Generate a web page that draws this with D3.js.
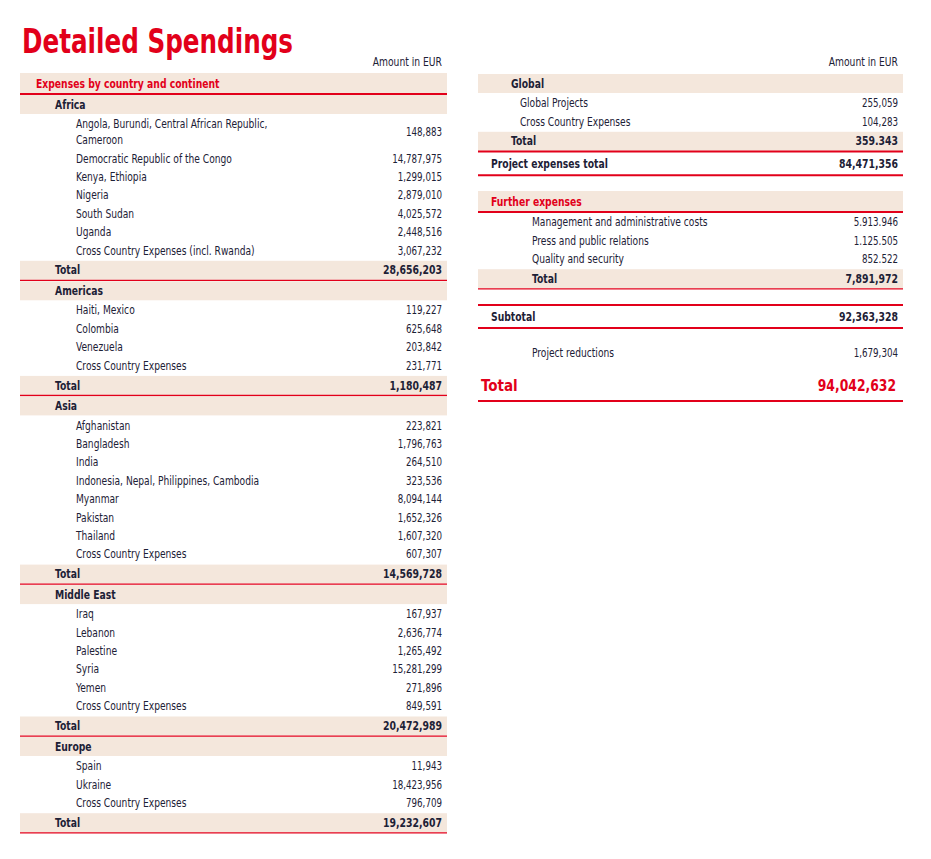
<!DOCTYPE html>
<html>
<head>
<meta charset="utf-8">
<script src="https://cdn.jsdelivr.net/npm/d3@7"></script>
<style>
  body { margin: 0; background: #fff; }
  svg text { font-family: "DejaVu Sans Condensed", "DejaVu Sans", sans-serif; font-stretch: condensed; }
</style>
</head>
<body>
<svg id="spendings" width="931" height="859"></svg>
<script>
// ---- data ----
const africaLabels = ["Angola, Burundi, Central African Republic,\nCameroon", "Democratic Republic of the Congo",
	"Kenya, Ethiopia", "Nigeria", "South Sudan", "Uganda", "Cross Country Expenses (incl. Rwanda)"];
const africaValues = [148883, 14787975, 1299015, 2879010, 4025572, 2448516, 3067232];
const africaTotal = 28656203;

const americasLabels = ["Haiti, Mexico", "Colombia", "Venezuela", "Cross Country Expenses"];
const americasValues = [119227, 625648, 203842, 231771];
const americasTotal = 1180487;

const asiaLabels = ["Afghanistan", "Bangladesh", "India", "Indonesia, Nepal, Philippines, Cambodia",
	"Myanmar", "Pakistan", "Thailand", "Cross Country Expenses"];
const asiaValues = [223821, 1796763, 264510, 323536, 8094144, 1652326, 1607320, 607307];
const asiaTotal = 14569728;

const middleEastLabels = ["Iraq", "Lebanon", "Palestine", "Syria", "Yemen", "Cross Country Expenses"];
const middleEastValues = [167937, 2636774, 1265492, 15281299, 271896, 849591];
const middleEastTotal = 20472989;

const europeLabels = ["Spain", "Ukraine", "Cross Country Expenses"];
const europeValues = [11943, 18423956, 796709];
const europeTotal = 19232607;

const globalLabels = ["Global Projects", "Cross Country Expenses"];
const globalValues = [255059, 104283];
const globalTotal = 359343;
const projectExpensesTotal = 84471356;

const furtherLabels = ["Management and administrative costs", "Press and public relations", "Quality and security"];
const furtherValues = [5913946, 1125505, 852522];
const furtherTotal = 7891972;

const subtotal = 92363328;
const projectReductions = 1679304;
const grandTotal = 94042632;

// ---- styling ----
const RED = "#e2001a";
const BAND = "#f4e7dc";
const INK = "#1d2136";

const comma = d3.format(",");
// the page itself mixes separators, some figures use dots
const dot = d3.formatLocale({ decimal: ",", thousands: ".", grouping: [3], currency: ["", ""] }).format(",");

// row heights per type
const H = { section: 22, group: 20, item: 18.4, total: 21.5, strong: 23, grand: 31 };

const svg = d3.select("svg#spendings");

svg.append("text")
	.attr("x", 22)
	.attr("y", 53)
	.attr("fill", RED)
	.attr("font-weight", "bold")
	.attr("font-size", 33)
	.attr("textLength", 271)
	.attr("lengthAdjust", "spacingAndGlyphs")
	.text("Detailed Spendings");

/*
 * builds the rows for one continent block
 */
function block(name, labels, values, total) {
	let rows = [{ type: "group", label: name, indent: "group" }];
	labels.forEach((l, i) => rows.push({ type: "item", label: l, value: comma(values[i]), indent: "item" }));
	rows.push({ type: "total", label: "Total", value: comma(total), indent: "group", line: 1.3 });
	return rows;
}

const leftRows = [{ type: "section", label: "Expenses by country and continent", indent: "section" }]
	.concat(block("Africa", africaLabels, africaValues, africaTotal))
	.concat(block("Americas", americasLabels, americasValues, americasTotal))
	.concat(block("Asia", asiaLabels, asiaValues, asiaTotal))
	.concat(block("Middle East", middleEastLabels, middleEastValues, middleEastTotal))
	.concat(block("Europe", europeLabels, europeValues, europeTotal));

const rightRows = [{ type: "group", label: "Global", indent: "group" }]
	.concat(globalLabels.map((l, i) => ({ type: "item", label: l, value: comma(globalValues[i]), indent: "sub" })))
	.concat([
		{ type: "total", label: "Total", value: dot(globalTotal), indent: "group", line: 2 },
		{ type: "strong", label: "Project expenses total", value: comma(projectExpensesTotal), indent: "section", lineBottom: true },
		{ type: "section", label: "Further expenses", indent: "section", gap: 15.7 },
	])
	.concat(furtherLabels.map((l, i) => ({ type: "item", label: l, value: dot(furtherValues[i]), indent: "item" })))
	.concat([
		{ type: "total", label: "Total", value: comma(furtherTotal), indent: "item", line: 1.3 },
		{ type: "strong", label: "Subtotal", value: comma(subtotal), indent: "section", lineTop: true, lineBottom: true, gap: 15.3 },
		{ type: "item", label: "Project reductions", value: comma(projectReductions), indent: "item", gap: 15.8 },
		{ type: "grand", label: "Total", value: comma(grandTotal), indent: "grand", gap: 7.8 },
	]);

// stacks the rows from a starting y
function stack(rows, y0) {
	let y = y0;
	rows.forEach((r) => {
		y += r.gap || 0;
		r.top = y;
		r.lines = r.label.split("\n");
		y += H[r.type] + (r.lines.length - 1) * 16;
	});
}

// the print face is a narrow one, so squeeze the glyphs a little
const squeezeLabel = (d) => (d.type === "grand" ? 0.94 : d.type === "item" ? 0.89 : 0.87);
const squeezeValue = (d) => (d.type === "grand" ? 0.86 : d.type === "item" ? 0.85 : 0.88);

function drawColumn(rows, opts) {
	stack(rows, opts.y0);
	const indentX = d3.scaleOrdinal().domain(opts.levels).range(opts.offsets);
	const g = svg.append("g").attr("transform", `translate(${opts.left}, 0)`);
	const w = opts.width;

	g.append("text")
		.attr("transform", `translate(${w - 5}, 62) scale(0.89, 1)`)
		.attr("dy", "0.35em")
		.attr("text-anchor", "end")
		.attr("font-size", 11.5)
		.attr("fill", INK)
		.text("Amount in EUR");

	const row = g.selectAll("g.row")
		.data(rows)
		.join("g")
		.attr("class", "row")
		.attr("transform", (d) => `translate(0, ${d.top})`);

	// shaded bands
	row.filter((d) => d.type === "section")
		.append("rect").attr("y", 0).attr("width", w).attr("height", 20).attr("fill", BAND);
	row.filter((d) => d.type === "group")
		.append("rect").attr("y", 0).attr("width", w).attr("height", 19).attr("fill", BAND);
	row.filter((d) => d.type === "total")
		.append("rect").attr("y", 1).attr("width", w).attr("height", 19).attr("fill", BAND);

	// red rules
	row.filter((d) => d.type === "section")
		.append("line").attr("x2", w).attr("y1", 21).attr("y2", 21)
		.attr("stroke", RED).attr("stroke-width", 2);
	row.filter((d) => d.type === "total")
		.append("line").attr("x2", w).attr("y1", 20.6).attr("y2", 20.6)
		.attr("stroke", RED).attr("stroke-width", (d) => d.line);
	row.filter((d) => d.lineTop)
		.append("line").attr("x2", w).attr("y1", 0).attr("y2", 0)
		.attr("stroke", RED).attr("stroke-width", 2);
	row.filter((d) => d.lineBottom)
		.append("line").attr("x2", w).attr("y1", 23).attr("y2", 23)
		.attr("stroke", RED).attr("stroke-width", 2);
	row.filter((d) => d.type === "grand")
		.append("line").attr("x2", w).attr("y1", 31).attr("y2", 31)
		.attr("stroke", RED).attr("stroke-width", 2);

	const center = (d) => ({ section: 10.5, group: 9.5, item: 9.2, total: 10.5, strong: 11.5, grand: 15 })[d.type];
	const size = (d) => (d.type === "grand" ? 16 : d.type === "item" ? 11.4 : 11.8);
	const weight = (d) => (d.type === "item" ? "normal" : "bold");
	const colour = (d) => (d.type === "section" || d.type === "grand" ? RED : INK);

	// labels, one tspan per printed line
	row.append("text")
		.attr("transform", (d) => `translate(${indentX(d.indent)}, 0) scale(${squeezeLabel(d)}, 1)`)
		.attr("font-size", size)
		.attr("font-weight", weight)
		.attr("fill", colour)
		.selectAll("tspan")
		.data((d) => d.lines.map((t, i) => ({ t, i, d })))
		.join("tspan")
		.attr("x", 0)
		.attr("y", (e) => center(e.d) + e.i * 16)
		.attr("dy", "0.35em")
		.text((e) => e.t);

	// amounts, centred on the row
	row.filter((d) => d.value)
		.append("text")
		.attr("transform", (d) => {
			let x = d.type === "grand" ? w - 7 : w - 5;
			let y = center(d) + (d.lines.length - 1) * 8;
			return `translate(${x}, ${y}) scale(${squeezeValue(d)}, 1)`;
		})
		.attr("dy", "0.35em")
		.attr("text-anchor", "end")
		.attr("font-size", size)
		.attr("font-weight", weight)
		.attr("fill", colour)
		.text((d) => d.value);
}

drawColumn(leftRows, {
	left: 20, width: 427, y0: 73,
	levels: ["section", "group", "item"], offsets: [16, 35, 56],
});

drawColumn(rightRows, {
	left: 478, width: 425, y0: 74,
	levels: ["grand", "section", "group", "sub", "item"], offsets: [3, 13, 33, 42, 54],
});
</script>
</body>
</html>
